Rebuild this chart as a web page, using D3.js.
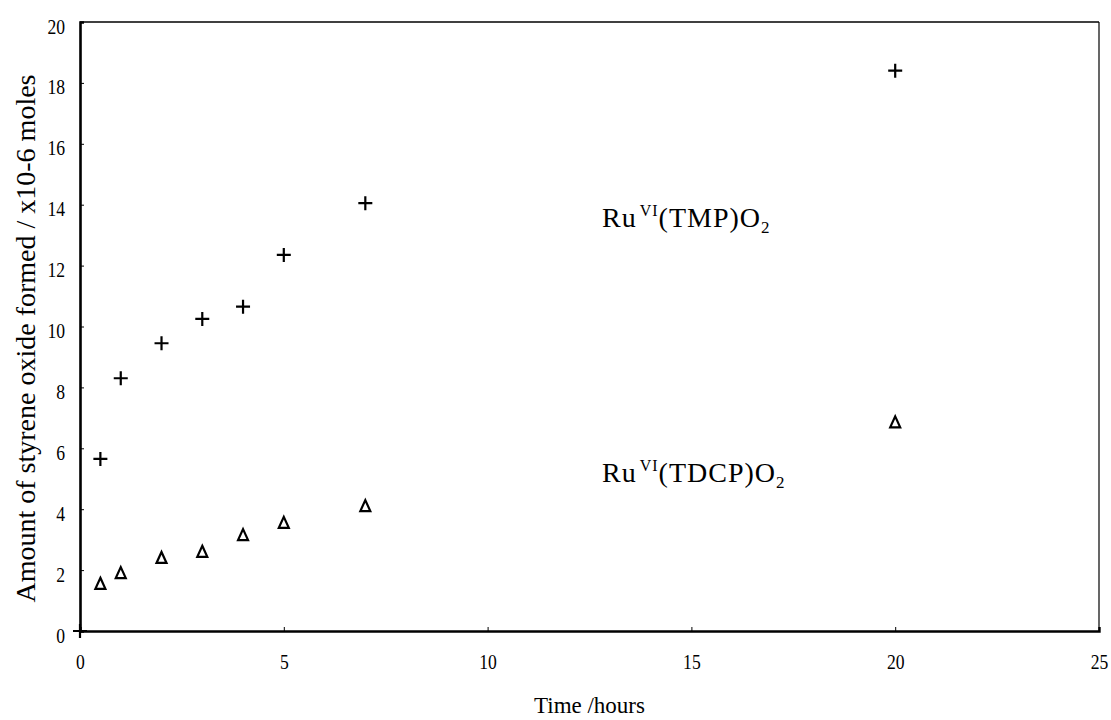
<!DOCTYPE html>
<html>
<head>
<meta charset="utf-8">
<script src="https://cdn.jsdelivr.net/npm/d3@7"></script>
<style>
  body { margin: 0; background: #fff; }
  svg text { font-family: "Liberation Serif", "Times New Roman", serif; fill: #000; }
</style>
</head>
<body>
<div id="chart"></div>
<script>
// data
const timeHours = [0, 0.5, 1, 2, 3, 4, 5, 7, 20];
const tmpValues = [0, 5.65, 8.3, 9.45, 10.25, 10.65, 12.35, 14.05, 18.4];
const tdcpTime = [0.5, 1, 2, 3, 4, 5, 7, 20];
const tdcpValues = [1.55, 1.9, 2.4, 2.6, 3.15, 3.55, 4.1, 6.85];
const xTicks = [0, 5, 10, 15, 20, 25];
const yTicks = [0, 2, 4, 6, 8, 10, 12, 14, 16, 18, 20];

const W = 1111, H = 720;
const margin = { top: 22, right: 12, bottom: 89, left: 80 },
    width = W - margin.left - margin.right,
    height = H - margin.top - margin.bottom;

const svg = d3.select('#chart')
    .append('svg')
    .attr('width', W)
    .attr('height', H)
    .append('g')
    .attr('transform', `translate(${margin.left}, ${margin.top})`);

const x = d3.scaleLinear().domain([0, 25]).range([0, width]);
const y = d3.scaleLinear().domain([0, 20]).range([height, 0]);

// frame: top and right thin, left and bottom heavier
svg.append('line')
    .attr('x1', 0).attr('x2', width).attr('y1', 0).attr('y2', 0)
    .attr('stroke', '#000').attr('stroke-width', 1.6);
svg.append('line')
    .attr('x1', width).attr('x2', width).attr('y1', 0).attr('y2', height)
    .attr('stroke', '#000').attr('stroke-width', 1.2);

// x axis
const xAxis = svg.append('g')
    .attr('transform', `translate(0, ${height})`)
    .call(d3.axisBottom(x).tickValues(xTicks).tickSize(-4).tickPadding(0));
xAxis.select('.domain').attr('stroke-width', 2.4);
// narrow scanned-looking digits: squeeze each label horizontally
xAxis.selectAll('.tick text')
    .attr('y', 0)
    .attr('dy', 0)
    .attr('transform', 'translate(0, 38) scale(0.8, 1)')
    .style('font-size', '22px');

// y axis
const yAxis = svg.append('g')
    .call(d3.axisLeft(y).tickValues(yTicks).tickSize(-4).tickPadding(0));
yAxis.select('.domain').attr('stroke-width', 2.6);
yAxis.selectAll('.tick text')
    .attr('x', 0)
    .attr('dy', 0)
    .attr('transform', 'translate(-15, 11) scale(0.8, 1)')
    .style('font-size', '22px');

// axis titles
svg.append('text')
    .attr('x', x(12.5))
    .attr('y', height + 82)
    .attr('text-anchor', 'middle')
    .style('font-size', '23px')
    .text('Time /hours');

svg.append('text')
    .attr('transform', 'rotate(-90)')
    .attr('x', -height / 2 - 12)
    .attr('y', -45)
    .attr('text-anchor', 'middle')
    .style('font-size', '28px')
    .text('Amount of styrene oxide formed / x10-6 moles');

// markers
svg.selectAll('.tmp')
    .data(timeHours.map((t, i) => [t, tmpValues[i]]))
    .enter()
    .append('path')
    .classed('tmp', true)
    .attr('d', 'M-7,0H7M0,-7V7')
    .attr('transform', d => `translate(${x(d[0])}, ${y(d[1])})`)
    .attr('stroke', '#000')
    .attr('stroke-width', 2.2)
    .attr('fill', 'none');

svg.selectAll('.tdcp')
    .data(tdcpTime.map((t, i) => [t, tdcpValues[i]]))
    .enter()
    .append('path')
    .classed('tdcp', true)
    .attr('d', 'M0,-6L5,5H-5Z')
    .attr('transform', d => `translate(${x(d[0])}, ${y(d[1])})`)
    .attr('stroke', '#000')
    .attr('stroke-width', 2.2)
    .attr('fill', 'none');

// series labels
function seriesLabel(px, py, inner) {
    const t = svg.append('text')
        .attr('x', px)
        .attr('y', py)
        .style('font-size', '28px')
        .style('letter-spacing', '1px');
    t.append('tspan').text('Ru');
    t.append('tspan').attr('dy', -11).attr('dx', 3).style('font-size', '16px').text('VI');
    t.append('tspan').attr('dy', 11).text(`(${inner})O`);
    t.append('tspan').attr('dy', 6).style('font-size', '17px').text('2');
}
seriesLabel(602 - margin.left, 227 - margin.top, 'TMP');
seriesLabel(602 - margin.left, 482 - margin.top, 'TDCP');
</script>
</body>
</html>
